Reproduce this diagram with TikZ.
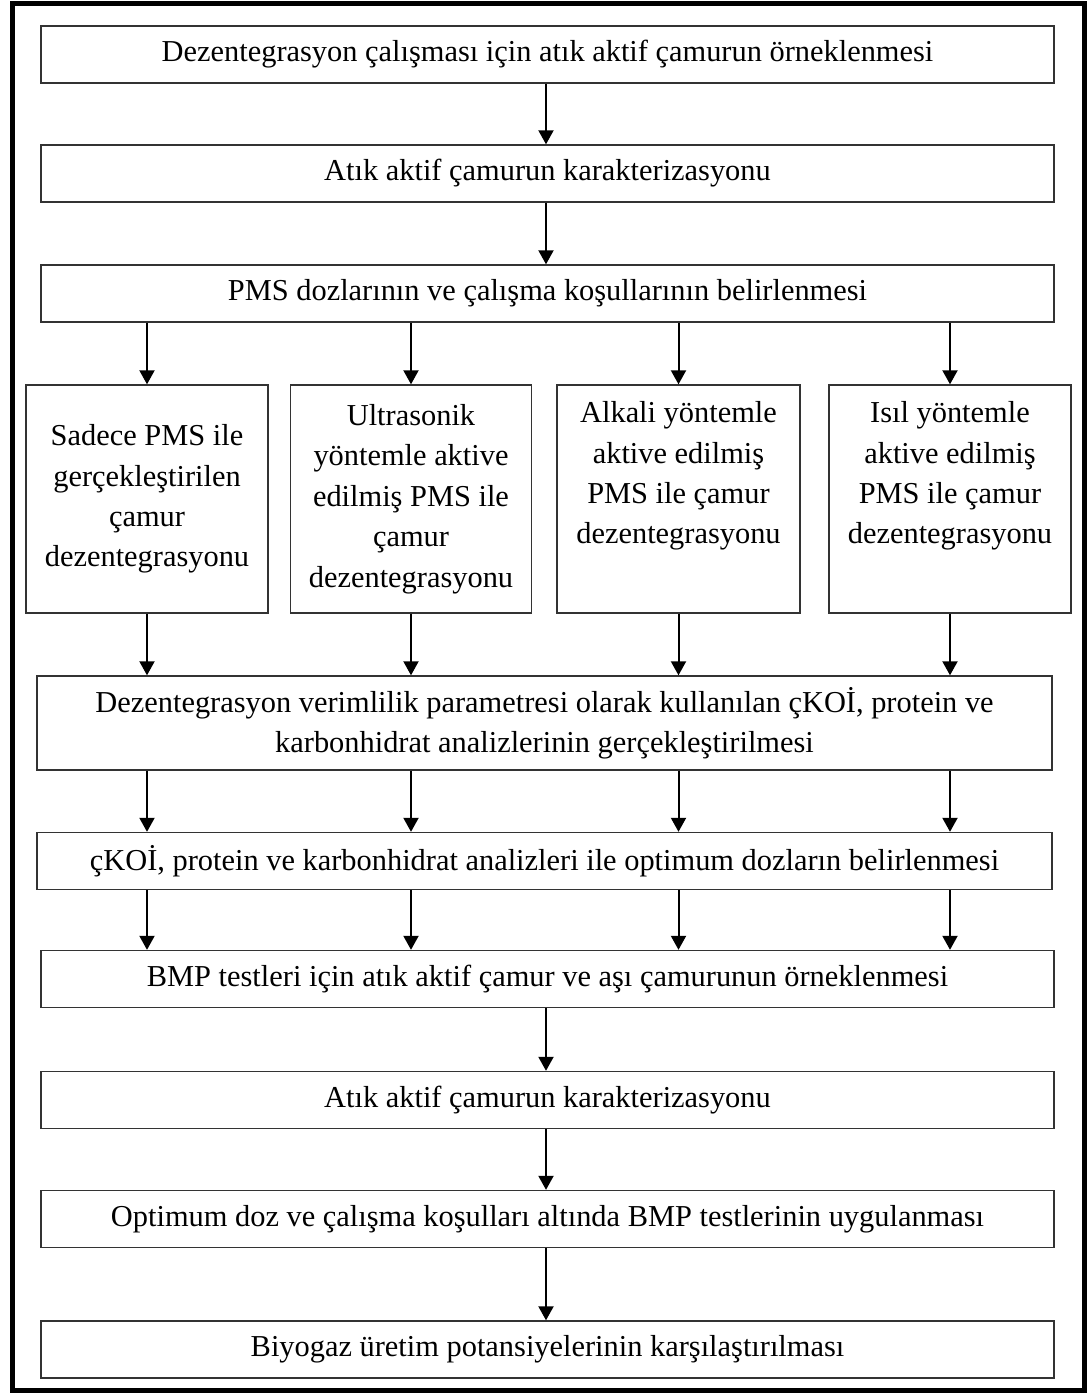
\documentclass[tikz,border=0pt]{standalone}
\usepackage{fontspec}
\setmainfont{Liberation Serif}
\usepackage{tikz}
\usetikzlibrary{arrows.meta}

\tikzset{
  box/.style={draw=black!80,line width=0.7pt,inner sep=0pt,align=center,
    minimum width=506.5pt,minimum height=28.5pt},
  colbox/.style={box,minimum width=121pt,minimum height=114pt},
  flow/.style={line width=1pt,-{Triangle[length=7pt,width=7.5pt]}}
}

\begin{document}
\begin{tikzpicture}[x=0.5pt,y=-0.5pt,font=\fontsize{15.2}{20.2}\selectfont]
          \useasboundingbox (0,0) rectangle (1090,1398);
          \draw[line width=2.5pt] (12,3) rectangle (1084,1390);
          % upper part
          \node[box] (ornek) at (547.5,54.5) {Dezentegrasyon çalışması için atık aktif çamurun örneklenmesi};
          \node[box] (karakter) at (547.5,173.5) {Atık aktif çamurun karakterizasyonu};
          \node[box] (doz) at (547.5,293.5) {PMS dozlarının ve çalışma koşullarının belirlenmesi};
          % four methods
          \node[colbox] (sadece) at (147,499) {Sadece PMS ile\\gerçekleştirilen\\çamur\\dezentegrasyonu};
          \node[colbox,minimum width=120.5pt] (ultra) at (411,499) {Ultrasonik\\yöntemle aktive\\edilmiş PMS ile\\çamur\\dezentegrasyonu};
          \node[colbox,minimum width=121.5pt] (alkali) at (678.5,499) {Alkali yöntemle\\aktive edilmiş\\PMS ile çamur\\dezentegrasyonu\\ \strut};
          \node[colbox] (isil) at (950,499) {Isıl yöntemle\\aktive edilmiş\\PMS ile çamur\\dezentegrasyonu\\ \strut};
          % analyses
          \node[box,minimum width=507.5pt,minimum height=47pt] (verim) at (544.5,723) {Dezentegrasyon verimlilik parametresi olarak kullanılan çKOİ, protein ve\\karbonhidrat analizlerinin gerçekleştirilmesi};
          \node[box,minimum width=507.5pt] (optimum) at (544.5,861) {çKOİ, protein ve karbonhidrat analizleri ile optimum dozların belirlenmesi};
          % BMP part
          \node[box] (bmp) at (547.5,979) {BMP testleri için atık aktif çamur ve aşı çamurunun örneklenmesi};
          \node[box] (karakter2) at (547.5,1100) {Atık aktif çamurun karakterizasyonu};
          \node[box] (uygula) at (547.5,1219) {Optimum doz ve çalışma koşulları altında BMP testlerinin uygulanması};
          \node[box] (biyogaz) at (547.5,1349.5) {Biyogaz üretim potansiyelerinin karşılaştırılması};
          % arrows
          \draw[flow] (ornek.south -| 546,0) -- (karakter.north -| 546,0);
          \draw[flow] (karakter.south -| 546,0) -- (doz.north -| 546,0);
          \foreach \m in {sadece,ultra,alkali,isil}{
            \draw[flow] (doz.south -| \m) -- (\m);
            \draw[flow] (\m) -- (verim.north -| \m);
            \draw[flow] (verim.south -| \m) -- (optimum.north -| \m);
            \draw[flow] (optimum.south -| \m) -- (bmp.north -| \m);
          }
          \draw[flow] (bmp.south -| 546,0) -- (karakter2.north -| 546,0);
          \draw[flow] (karakter2.south -| 546,0) -- (uygula.north -| 546,0);
          \draw[flow] (uygula.south -| 546,0) -- (biyogaz.north -| 546,0);
        \end{tikzpicture}
\end{document}
